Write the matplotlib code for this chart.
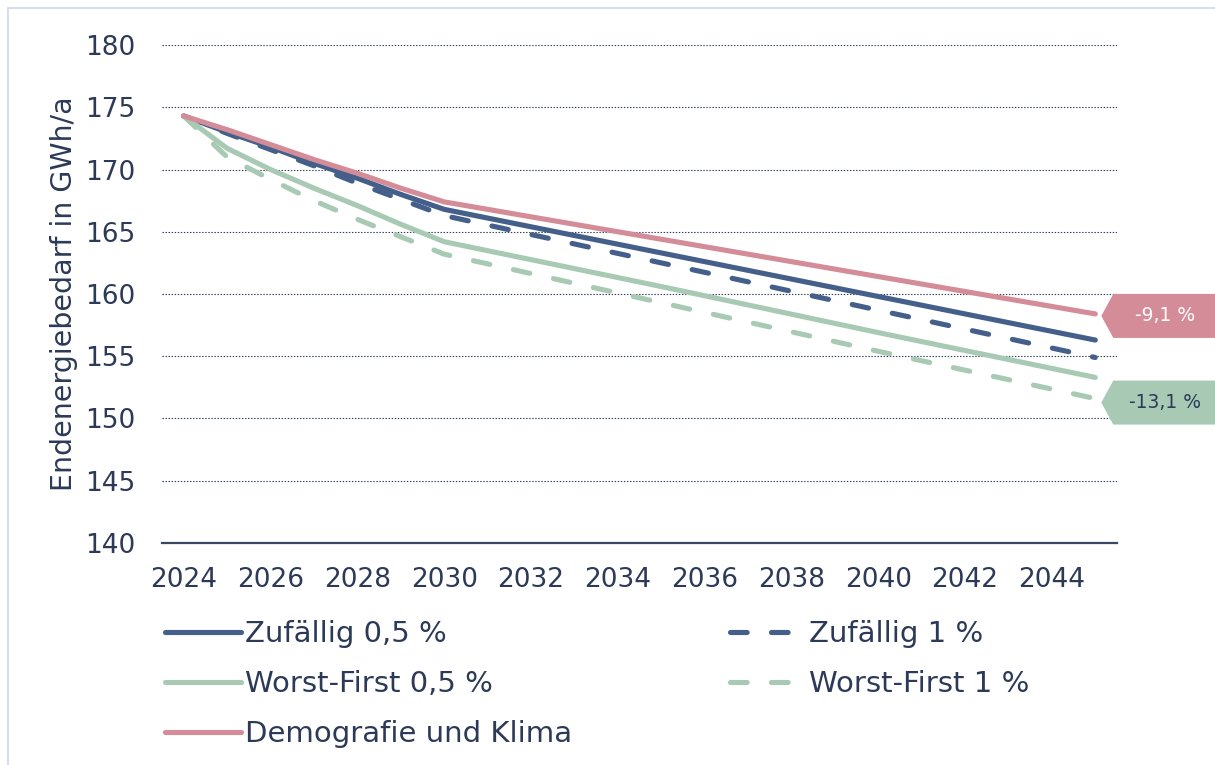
import matplotlib
matplotlib.use("Agg")
import matplotlib.pyplot as plt
import matplotlib.transforms as mtransforms
from matplotlib.patches import Polygon, Rectangle

# Data
years = [2024, 2025, 2026, 2027, 2028, 2029, 2030, 2035, 2040, 2045]
zufaellig_05 = [174.3, 173.0, 171.8, 170.5, 169.3, 168.0, 166.8, 163.3, 159.8, 156.3]
zufaellig_1 = [174.3, 172.9, 171.6, 170.3, 168.9, 167.6, 166.3, 162.5, 158.7, 154.9]
worst_first_05 = [174.3, 171.7, 170.0, 168.5, 167.1, 165.6, 164.2, 160.6, 156.9, 153.3]
worst_first_1 = [174.3, 171.0, 169.2, 167.5, 166.0, 164.6, 163.2, 159.3, 155.4, 151.6]
demografie = [174.3, 173.2, 172.0, 170.8, 169.7, 168.5, 167.4, 164.4, 161.4, 158.4]
xtick_years = list(range(2024, 2045, 2))
change_labels = ["-9,1 %", "-13,1 %"]

NAVY = "#2c3a57"
BLUE = "#44608a"
GREEN = "#a8cab5"
PINK = "#d48d98"

plt.rcParams["font.family"] = ["DejaVu Sans"]
plt.rcParams["lines.scale_dashes"] = False

fig = plt.figure(figsize=(12.15, 7.65), dpi=100)
ax = fig.add_axes([162 / 1215, 1 - 543 / 765, (1117 - 162) / 1215, (543 - 45) / 765])

# thin frame around the whole picture
fig.patches.append(
    Rectangle((8 / 1215, -0.1), 1.2, 0.1 + 757 / 765, transform=fig.transFigure,
              fill=False, edgecolor="#d8dcee", linewidth=1.5)
)

lw = 3.7
dash = (0, (12, 17.5))
series = [
    (zufaellig_05, BLUE, "-", "Zufällig 0,5 %"),
    (zufaellig_1, BLUE, dash, "Zufällig 1 %"),
    (worst_first_05, GREEN, "-", "Worst-First 0,5 %"),
    (worst_first_1, GREEN, dash, "Worst-First 1 %"),
    (demografie, PINK, "-", "Demografie und Klima"),
]
handles = {}
for values, color, ls, label in series:
    (h,) = ax.plot(years, values, color=color, linestyle=ls, linewidth=lw,
                   solid_capstyle="round", dash_capstyle="round",
                   solid_joinstyle="round", label=label)
    handles[label] = h

ax.set_xlim(2023.5, 2045.5)
ax.set_ylim(140, 180)
ax.set_yticks(range(140, 181, 5))
ax.set_xticks(xtick_years)
ax.grid(axis="y", linestyle=(0, (1, 1.2)), color=NAVY, linewidth=0.8)
ax.set_axisbelow(True)
for side in ["top", "right", "left"]:
    ax.spines[side].set_visible(False)
ax.spines["bottom"].set_color("#3b4763")
ax.spines["bottom"].set_linewidth(1.6)
ax.tick_params(axis="both", length=0, labelsize=19, labelcolor=NAVY)
ax.tick_params(axis="y", pad=19)
ax.tick_params(axis="x", pad=17)
ax.set_ylabel("Endenergiebedarf in GWh/a", fontsize=20.5, color=NAVY, labelpad=5)

# tag-shaped labels at the end of the pink and green dashed lines
tag_specs = [
    (demografie, PINK, "white", change_labels[0], -2),
    (worst_first_1, GREEN, NAVY, change_labels[1], -4),
]
k = 72 / 100  # pixels -> points
for values, color, tcolor, text, dy in tag_specs:
    anchor = mtransforms.ScaledTranslation(years[-1], values[-1], ax.transData)
    trans = mtransforms.Affine2D().scale(1 / 72) + fig.dpi_scale_trans + anchor
    pts = [(6, dy), (18, dy + 22), (130, dy + 22), (130, dy - 22), (18, dy - 22)]
    poly = Polygon([(x * k, y * k) for x, y in pts], closed=True, transform=trans,
                   facecolor=color, edgecolor="none", clip_on=False)
    ax.add_patch(poly)
    ax.text(70 * k, dy * k, text, transform=trans, color=tcolor, fontsize=13.5,
            ha="center", va="center", clip_on=False)

# legend in two blocks
legend_kw = dict(loc="upper left", frameon=False, fontsize=21, labelcolor=NAVY,
                 labelspacing=0.76, borderaxespad=0, borderpad=0)
left_labels = ["Zufällig 0,5 %", "Worst-First 0,5 %", "Demografie und Klima"]
right_labels = ["Zufällig 1 %", "Worst-First 1 %"]
fig.legend([handles[l] for l in left_labels], left_labels,
           bbox_to_anchor=(165 / 1215, 1 - 620 / 765), handlelength=2.6,
           handletextpad=0.15, **legend_kw)
fig.legend([handles[l] for l in right_labels], right_labels,
           bbox_to_anchor=(730 / 1215, 1 - 620 / 765), handlelength=2.25,
           handletextpad=0.45, **legend_kw)

fig.savefig("out.png", dpi=100)
